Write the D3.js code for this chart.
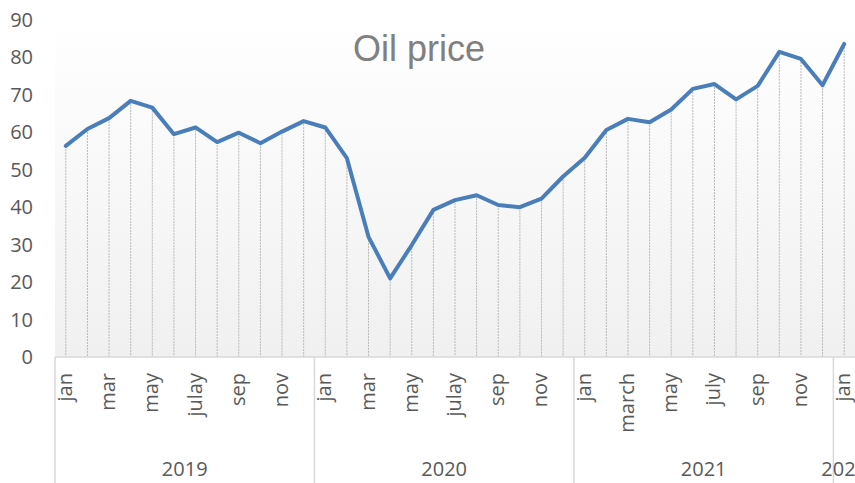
<!DOCTYPE html>
<html>
<head>
<meta charset="utf-8">
<script src="https://cdn.jsdelivr.net/npm/d3@7"></script>
<style>
  body { margin: 0; background: #fff; }
  svg { display: block; }
</style>
</head>
<body>
<svg width="855" height="483"></svg>
<script>
// Oil price, monthly, jan 2019 - jan 2022
var years = ["2019", "2020", "2021", "2022"];
var months = [
  "jan","feb","mar","apr","may","jun","julay","aug","sep","oct","nov","dec",
  "jan","feb","mar","apr","may","jun","julay","aug","sep","oct","nov","dec",
  "jan","feb","march","apr","may","jun","july","aug","sep","oct","nov","dec",
  "jan"];
var monthYear = [
  "2019","2019","2019","2019","2019","2019","2019","2019","2019","2019","2019","2019",
  "2020","2020","2020","2020","2020","2020","2020","2020","2020","2020","2020","2020",
  "2021","2021","2021","2021","2021","2021","2021","2021","2021","2021","2021","2021",
  "2022"];
var price = [
  56.4, 60.9, 63.8, 68.4, 66.6, 59.5, 61.3, 57.4, 59.9, 57.1, 60.2, 63.0,
  61.3, 53.1, 32.1, 21.0, 29.9, 39.3, 41.9, 43.2, 40.6, 40.0, 42.3, 48.2,
  53.2, 60.6, 63.6, 62.7, 66.1, 71.6, 72.9, 68.8, 72.4, 81.5, 79.6, 72.6,
  83.6];
var yTicks = [0, 10, 20, 30, 40, 50, 60, 70, 80, 90];

var w = 855, h = 483;
var margin = {top: 20, right: 0, bottom: 126, left: 55};
var width = w - margin.left - margin.right,
    height = h - margin.top - margin.bottom;

var svg = d3.select("svg");
var g = svg.append("g").attr("transform", "translate(" + margin.left + "," + margin.top + ")");

var idx = d3.range(price.length);
var x = d3.scaleBand().domain(idx).range([0, width]);
var y = d3.scaleLinear().domain([0, 90]).range([height, 0]);

// plot area background (white -> light gray)
var defs = svg.append("defs");
var grad = defs.append("linearGradient").attr("id", "bg")
    .attr("x1", 0).attr("y1", 0).attr("x2", 0).attr("y2", 1);
grad.append("stop").attr("offset", "0%").attr("stop-color", "#ffffff");
grad.append("stop").attr("offset", "100%").attr("stop-color", "#f0f0f0");

g.append("rect")
    .attr("width", width).attr("height", height)
    .attr("fill", "url(#bg)");

// drop lines
g.selectAll(".drop")
  .data(price)
  .enter().append("line")
    .attr("x1", function(d, i) { return x(i) + x.bandwidth() / 2; })
    .attr("x2", function(d, i) { return x(i) + x.bandwidth() / 2; })
    .attr("y1", function(d) { return y(d); })
    .attr("y2", y(0))
    .attr("stroke", "#b8b8b8")
    .attr("stroke-width", 1)
    .attr("stroke-dasharray", "2,1");

// y tick labels
g.selectAll(".ytick")
  .data(yTicks)
  .enter().append("text")
    .attr("x", -22)
    .attr("y", function(d) { return y(d); })
    .attr("dy", "0.35em")
    .attr("text-anchor", "end")
    .attr("font-family", "Open Sans, sans-serif")
    .style("font-size", "20px")
    .attr("fill", "#595959")
    .text(function(d) { return d; });

// category axis frame
g.append("line")
    .attr("x1", 0).attr("x2", width)
    .attr("y1", height).attr("y2", height)
    .attr("stroke", "#d9d9d9").attr("stroke-width", 1.5);

var yearStart = years.map(function(yr) { return monthYear.indexOf(yr); });
g.selectAll(".ysep")
  .data(yearStart)
  .enter().append("line")
    .attr("x1", function(d) { return x(d); })
    .attr("x2", function(d) { return x(d); })
    .attr("y1", height)
    .attr("y2", h - margin.top)
    .attr("stroke", "#d9d9d9").attr("stroke-width", 1.5);

// month labels, every other month
g.selectAll(".mlab")
  .data(idx.filter(function(i) { return (i % 12) % 2 == 0; }))
  .enter().append("text")
    .attr("transform", function(i) {
      return "translate(" + (x(i) + x.bandwidth() / 2 - 1) + "," + (height + 16) + ") rotate(-90)";
    })
    .attr("dy", "0.35em")
    .attr("text-anchor", "end")
    .attr("font-family", "Open Sans, sans-serif")
    .style("font-size", "20px")
    .attr("fill", "#595959")
    .text(function(i) { return months[i]; });

// year labels
g.selectAll(".ylab")
  .data(years)
  .enter().append("text")
    .attr("x", function(yr) {
      var s = monthYear.indexOf(yr), e = monthYear.lastIndexOf(yr);
      return (x(s) + x(e) + x.bandwidth()) / 2;
    })
    .attr("y", height + 119)
    .attr("text-anchor", "middle")
    .attr("font-family", "Open Sans, sans-serif")
    .style("font-size", "20px")
    .attr("fill", "#595959")
    .text(function(yr) { return yr; });

// price line
var line = d3.line()
    .x(function(d, i) { return x(i) + x.bandwidth() / 2; })
    .y(function(d) { return y(d); });

g.append("path")
    .datum(price)
    .attr("fill", "none")
    .attr("stroke", "#4a7ebb")
    .attr("stroke-width", 4)
    .attr("stroke-linejoin", "round")
    .attr("stroke-linecap", "round")
    .attr("d", line);

// title
svg.append("text")
    .attr("x", 419)
    .attr("y", 61)
    .attr("text-anchor", "middle")
    .attr("font-family", "Liberation Sans Narrow, Arial Narrow, sans-serif")
    .style("font-size", "36px")
    .attr("fill", "#808080")
    .text("Oil price");
</script>
</body>
</html>
